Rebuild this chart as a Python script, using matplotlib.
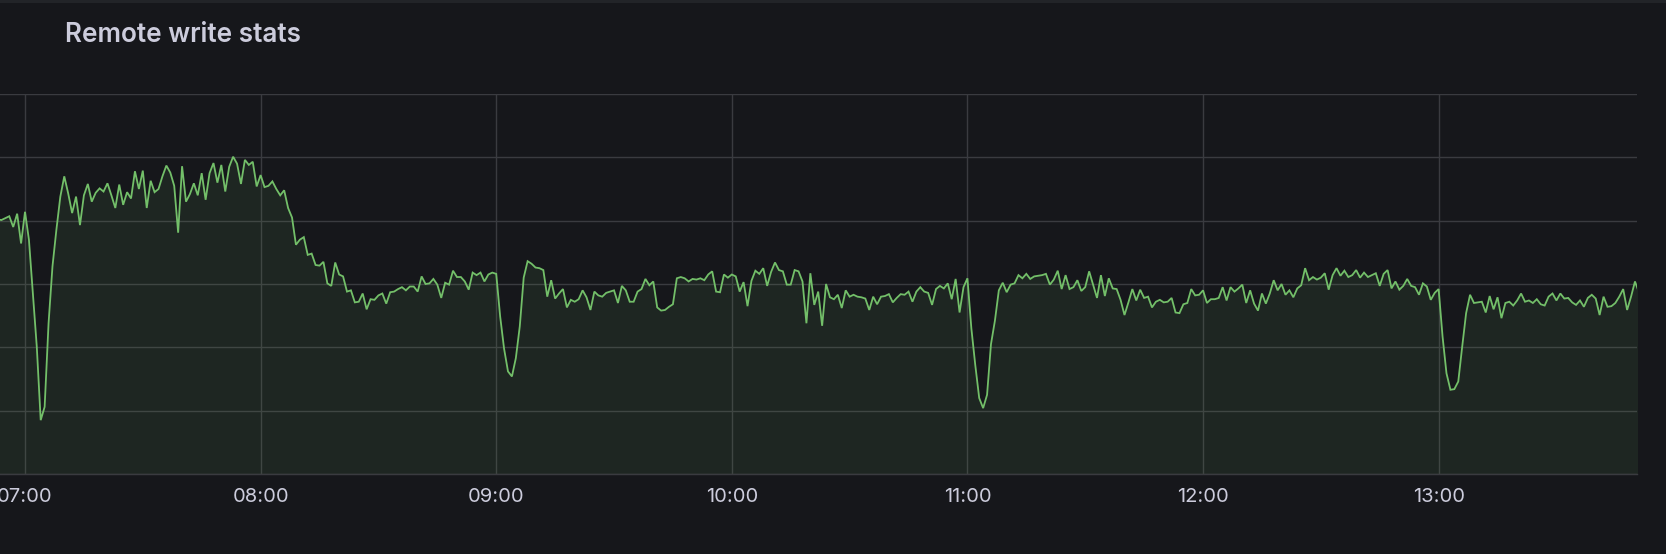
import matplotlib
matplotlib.use("Agg")
import matplotlib.pyplot as plt
import matplotlib.dates as mdates
from matplotlib.patches import Rectangle
import pandas as pd

# ---------------- data (one sample per minute) ----------------
start_time = "2024-01-01 06:53"
vals_0653 = [4.02, 4.01, 4.04, 4.07, 3.90, 4.11, 3.64]
vals_07 = [4.14, 3.70, 2.85, 2.01, 0.85, 1.06, 2.38, 3.28, 3.86, 4.38,
           4.70, 4.43, 4.12, 4.38, 3.93, 4.40, 4.58, 4.30, 4.44, 4.51,
           4.46, 4.59, 4.40, 4.20, 4.57, 4.25, 4.45, 4.35, 4.78, 4.50,
           4.79, 4.20, 4.63, 4.45, 4.50, 4.70, 4.87, 4.76, 4.55, 3.81,
           4.86, 4.30, 4.42, 4.59, 4.40, 4.75, 4.33, 4.75, 4.91, 4.60,
           4.88, 4.46, 4.85, 5.01, 4.90, 4.58, 4.96, 4.88, 4.93, 4.54]
vals_08 = [4.72, 4.53, 4.55, 4.62, 4.50, 4.40, 4.48, 4.20, 4.05, 3.62,
           3.70, 3.74, 3.46, 3.48, 3.30, 3.29, 3.35, 3.01, 2.97, 3.34,
           3.15, 3.12, 2.88, 2.90, 2.71, 2.72, 2.85, 2.60, 2.76, 2.75,
           2.82, 2.85, 2.69, 2.87, 2.88, 2.92, 2.95, 2.90, 2.96, 2.96,
           2.88, 3.12, 3.00, 3.01, 3.08, 2.99, 2.78, 3.02, 2.99, 3.21,
           3.11, 3.11, 3.04, 2.91, 3.18, 3.14, 3.18, 3.04, 3.15, 3.18]
vals_09 = [3.16, 2.49, 1.98, 1.62, 1.54, 1.83, 2.33, 3.10, 3.36, 3.32,
           3.26, 3.25, 3.22, 2.80, 3.06, 2.77, 2.85, 2.92, 2.63, 2.75,
           2.72, 2.76, 2.90, 2.79, 2.59, 2.88, 2.82, 2.80, 2.86, 2.88,
           2.90, 2.70, 2.97, 2.90, 2.72, 2.72, 2.88, 2.92, 3.08, 2.98,
           3.04, 2.63, 2.58, 2.59, 2.64, 2.68, 3.09, 3.11, 3.09, 3.04,
           3.08, 3.07, 3.09, 3.06, 3.15, 3.20, 2.88, 2.87, 3.15, 3.10]
vals_10 = [3.15, 3.12, 2.88, 3.03, 2.65, 3.05, 3.21, 3.16, 3.25, 2.97,
           3.19, 3.34, 3.22, 3.20, 2.99, 2.99, 3.22, 3.20, 3.04, 2.38,
           3.17, 2.67, 2.88, 2.34, 3.00, 2.79, 2.76, 2.83, 2.62, 2.90,
           2.80, 2.83, 2.80, 2.79, 2.77, 2.59, 2.80, 2.68, 2.80, 2.81,
           2.84, 2.71, 2.78, 2.84, 2.83, 2.88, 2.72, 2.88, 2.95, 2.88,
           2.86, 2.67, 2.92, 2.97, 2.93, 3.01, 2.76, 3.08, 2.55, 2.95]
vals_11 = [3.09, 2.30, 1.72, 1.20, 1.04, 1.25, 2.05, 2.42, 2.90, 3.02,
           2.87, 2.99, 3.01, 3.14, 3.09, 3.16, 3.08, 3.12, 3.13, 3.14,
           3.16, 2.99, 3.07, 3.21, 2.92, 3.14, 2.92, 2.95, 3.06, 2.89,
           2.95, 3.20, 2.99, 2.78, 3.14, 2.81, 3.09, 2.93, 2.92, 2.75,
           2.51, 2.71, 2.92, 2.74, 2.91, 2.78, 2.80, 2.63, 2.72, 2.75,
           2.71, 2.72, 2.78, 2.55, 2.54, 2.68, 2.70, 2.92, 2.82, 2.83]
vals_12 = [2.90, 2.70, 2.76, 2.76, 2.78, 2.95, 2.74, 2.95, 2.88, 2.93,
           2.99, 2.70, 2.90, 2.69, 2.58, 2.85, 2.69, 2.85, 3.06, 2.90,
           3.00, 2.83, 2.90, 2.79, 2.93, 2.98, 3.25, 3.06, 3.11, 3.07,
           3.10, 3.17, 2.91, 3.14, 3.25, 3.13, 3.21, 3.11, 3.14, 3.22,
           3.10, 3.18, 3.11, 3.14, 3.17, 2.97, 3.16, 3.22, 2.93, 3.04,
           2.91, 2.97, 3.08, 2.97, 2.95, 2.83, 3.01, 2.96, 2.75, 2.86]
vals_13 = [2.92, 2.17, 1.59, 1.33, 1.34, 1.46, 2.01, 2.54, 2.83, 2.70,
           2.71, 2.72, 2.55, 2.81, 2.60, 2.79, 2.46, 2.70, 2.72, 2.66,
           2.74, 2.85, 2.72, 2.74, 2.70, 2.76, 2.68, 2.66, 2.80, 2.85,
           2.74, 2.85, 2.77, 2.78, 2.71, 2.67, 2.74, 2.64, 2.78, 2.83,
           2.77, 2.51, 2.80, 2.64, 2.65, 2.70, 2.80, 2.92, 2.59, 2.80,
           3.04, 2.87]
title = "Remote write stats"

values = vals_0653 + vals_07 + vals_08 + vals_09 + vals_10 + vals_11 + vals_12 + vals_13
times = pd.date_range(start_time, periods=len(values), freq="min")

# ---------------- style ----------------
BG = "#16171b"
GRID = "#3a3b40"
LINE = "#73bf69"
TXT = "#ccccdc"

W, H = 1666, 554
fig = plt.figure(figsize=(W / 100, H / 100), dpi=100, facecolor=BG)
ax = fig.add_axes([0, 80 / H, 1637 / W, 380 / H])
ax.set_facecolor(BG)

ax.plot(times, values, color=LINE, lw=1.3, solid_joinstyle="miter")
ax.fill_between(times, values, 0, color=LINE, alpha=0.09, lw=0)

ax.set_ylim(0, 6)
ax.set_yticks(range(7))
ax.yaxis.set_ticklabels([])
ax.set_xlim(pd.Timestamp("2024-01-01 06:53:38"), pd.Timestamp("2024-01-01 13:50:31"))
ax.xaxis.set_major_locator(mdates.HourLocator())
ax.xaxis.set_major_formatter(mdates.DateFormatter("%H:%M"))
ax.tick_params(axis="both", length=0)
ax.tick_params(axis="x", pad=10, labelsize=14.5, labelcolor=TXT)
for lab in ax.get_xticklabels():
    lab.set_family(["Inter", "DejaVu Sans"])
ax.grid(True, color=GRID, lw=1.0)
ax.set_axisbelow(True)
for s in ax.spines.values():
    s.set_visible(False)
ax.spines["bottom"].set_visible(True)
ax.spines["bottom"].set_color(GRID)
ax.spines["bottom"].set_linewidth(1.0)

fig.text(65 / W, 1 - 41.5 / H, title, fontsize=18.8, fontweight="semibold",
         color=TXT, family=["Inter", "DejaVu Sans"], va="baseline", ha="left")

fig.patches.append(Rectangle((0, 1 - 3 / H), 1, 3 / H, transform=fig.transFigure,
                             facecolor="#222428", edgecolor="none"))

fig.savefig("out.png", dpi=100, facecolor=BG)
